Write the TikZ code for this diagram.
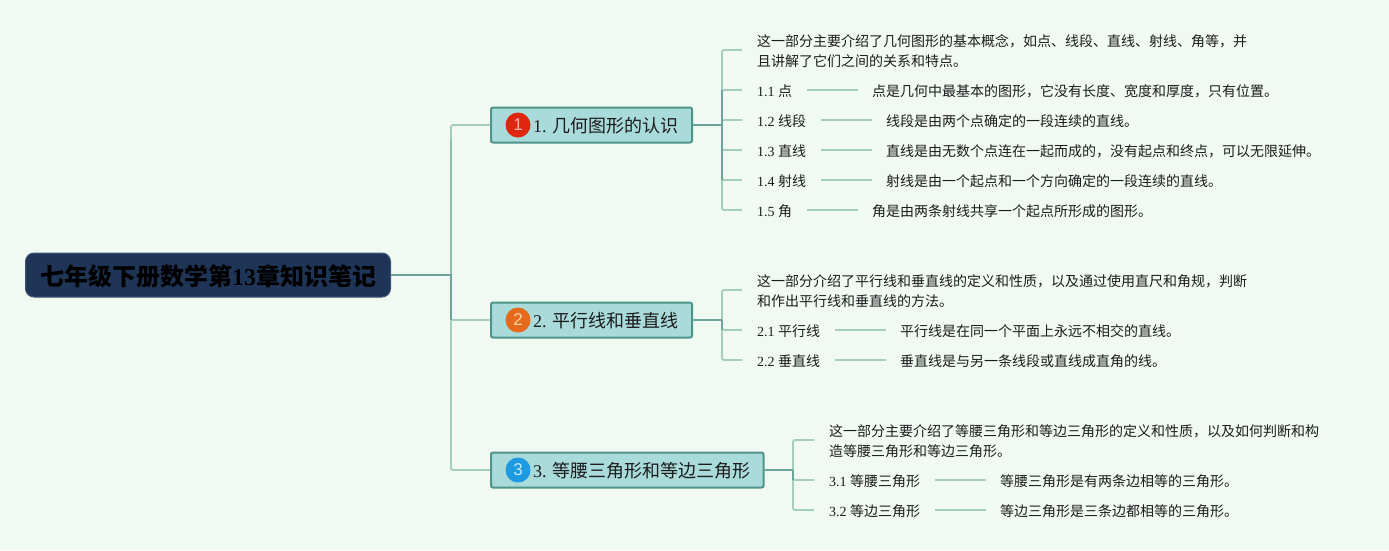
\documentclass[tikz,border=0pt]{standalone}
\usepackage{fontspec}
\setmainfont{Liberation Serif}
\newfontfamily\cjk{Noto Sans CJK SC}
\newfontfamily\iconfont{Liberation Sans}
\newcommand{\zh}[1]{{\cjk #1}}
\newcommand{\lowered}[1]{\raisebox{0pt}[16pt][1.4pt]{#1}}
\definecolor{pagebg}{HTML}{F0FAF3}
\definecolor{rootfill}{HTML}{1F3558}
\definecolor{mainfill}{HTML}{A9DBDA}
\definecolor{mainedge}{HTML}{4F9488}
\definecolor{darkline}{HTML}{6CA599}
\definecolor{midline}{HTML}{8CBFB0}
\definecolor{lightline}{HTML}{A3CDBD}
\definecolor{txt}{HTML}{1C1C1C}
\definecolor{redicon}{HTML}{E0260E}
\definecolor{orangeicon}{HTML}{E56A1B}
\definecolor{blueicon}{HTML}{1E9BE0}
\tikzset{
  rootbox/.style={draw=rootfill!85!white,line width=1pt,fill=rootfill,rounded corners=8.5pt,minimum width=365pt,minimum height=44pt,inner sep=0pt,anchor=west,text=black,font=\fontsize{24}{28}\selectfont\bfseries},
  mainbox/.style={draw=mainedge,line width=2pt,fill=mainfill,rounded corners=2pt,minimum height=35pt,inner sep=0pt,anchor=west,text=txt,font=\fontsize{18}{22}\selectfont},
  icon/.style={circle,minimum size=25pt,inner sep=0pt,font=\iconfont\fontsize{17}{17}\selectfont},
  leaf/.style={inner xsep=15pt,inner ysep=0pt,anchor=west,align=left,text=txt,font=\fontsize{14}{20}\selectfont},
  value/.style={inner xsep=13.5pt,inner ysep=0pt,anchor=west,align=left,text=txt,font=\fontsize{14}{20}\selectfont},
  stem/.style={darkline,line width=2.2pt},
  twig/.style={lightline,line width=1.8pt,rounded corners=2pt},
  rule/.style={lightline,line width=1.5pt},
  hubdark/.style={darkline,line width=1.8pt},
  hubmid/.style={midline,line width=1.8pt},
  up/.style={yshift=1.5pt}
}
\begin{document}
\begin{tikzpicture}[x=1pt,y=-1pt]
\useasboundingbox[fill=pagebg] (0,0) rectangle (1389,550);

\node[rootbox] (root) at (25,275) {\raisebox{0pt}[22pt][1.2pt]{\zh{七年级下册数学第}13\zh{章知识笔记}}};
\coordinate (rh) at (451,275);

\node[mainbox,minimum width=201pt] (m1) at (490,125) {\makebox[201pt][l]{\hspace{42pt}\lowered{1. \zh{几何图形的认识}}}};
\node[mainbox,minimum width=201pt] (m2) at (490,320) {\makebox[201pt][l]{\hspace{42pt}\lowered{2. \zh{平行线和垂直线}}}};
\node[mainbox,minimum width=272.5pt] (m3) at (490,470) {\makebox[272.5pt][l]{\hspace{42pt}\lowered{3. \zh{等腰三角形和等边三角形}}}};
\node[icon,fill=redicon,text=red!30!white] (i1) at (518,125) {1};
\node[icon,fill=orangeicon,text=orange!35!white] (i2) at (518,320) {2};
\node[icon,fill=blueicon,text=cyan!25!white] (i3) at (518,470) {3};

\draw[twig] (rh) |- (m1.west);
\draw[twig] (rh) |- (m3.west);
\draw[twig] (rh |- m2.west) -- (m2.west);
\draw[hubmid] (rh) -- (rh |- 0,140);
\draw[hubdark] (root.east) -- (rh) -- (rh |- m2.west);

% group 1
\coordinate (h1) at (722,125);
\node[leaf] (a0) at (742,51.5) {\zh{这一部分主要介绍了几何图形的基本概念，如点、线段、直线、射线、角等，并}\\\zh{且讲解了它们之间的关系和特点。}};
\node[leaf] (a1) at (742,91.5) {1.1 \zh{点}};
\node[leaf] (a2) at (742,121.5) {1.2 \zh{线段}};
\node[leaf] (a3) at (742,151.5) {1.3 \zh{直线}};
\node[leaf] (a4) at (742,181.5) {1.4 \zh{射线}};
\node[leaf] (a5) at (742,211.5) {1.5 \zh{角}};
\node[value] (v1) at (a1.east) [xshift=51pt] {\zh{点是几何中最基本的图形，它没有长度、宽度和厚度，只有位置。}};
\node[value] (v2) at (a2.east) [xshift=51pt] {\zh{线段是由两个点确定的一段连续的直线。}};
\node[value] (v3) at (a3.east) [xshift=51pt] {\zh{直线是由无数个点连在一起而成的，没有起点和终点，可以无限延伸。}};
\node[value] (v4) at (a4.east) [xshift=51pt] {\zh{射线是由一个起点和一个方向确定的一段连续的直线。}};
\node[value] (v5) at (a5.east) [xshift=51pt] {\zh{角是由两条射线共享一个起点所形成的图形。}};
\foreach \n in {0,1,2,3,4,5} \draw[twig] (h1) |- ([up]a\n.west);
\draw[hubdark] ([up]a1.west -| h1) -- ([up]a4.west -| h1);
\draw[stem] (m1.east) -- (h1);
\foreach \n in {1,2,3,4,5} \draw[rule] ([up]a\n.east) -- ([up]v\n.west);

% group 2
\coordinate (h2) at (722,320);
\node[leaf] (b0) at (742,291.5) {\zh{这一部分介绍了平行线和垂直线的定义和性质，以及通过使用直尺和角规，判断}\\\zh{和作出平行线和垂直线的方法。}};
\node[leaf] (b1) at (742,331.5) {2.1 \zh{平行线}};
\node[leaf] (b2) at (742,361.5) {2.2 \zh{垂直线}};
\node[value] (w1) at (b1.east) [xshift=51pt] {\zh{平行线是在同一个平面上永远不相交的直线。}};
\node[value] (w2) at (b2.east) [xshift=51pt] {\zh{垂直线是与另一条线段或直线成直角的线。}};
\foreach \n in {0,1,2} \draw[twig] (h2) |- ([up]b\n.west);
\draw[hubdark] (h2) -- ([up]b1.west -| h2);
\draw[stem] (m2.east) -- (h2);
\foreach \n in {1,2} \draw[rule] ([up]b\n.east) -- ([up]w\n.west);

% group 3
\coordinate (h3) at (793,470);
\node[leaf] (c0) at (814,441.5) {\zh{这一部分主要介绍了等腰三角形和等边三角形的定义和性质，以及如何判断和构}\\\zh{造等腰三角形和等边三角形。}};
\node[leaf] (c1) at (814,481.5) {3.1 \zh{等腰三角形}};
\node[leaf] (c2) at (814,511.5) {3.2 \zh{等边三角形}};
\node[value] (x1) at (c1.east) [xshift=51pt] {\zh{等腰三角形是有两条边相等的三角形。}};
\node[value] (x2) at (c2.east) [xshift=51pt] {\zh{等边三角形是三条边都相等的三角形。}};
\foreach \n in {0,1,2} \draw[twig] (h3) |- ([up]c\n.west);
\draw[hubdark] (h3) -- ([up]c1.west -| h3);
\draw[stem] (m3.east) -- (h3);
\foreach \n in {1,2} \draw[rule] ([up]c\n.east) -- ([up]x\n.west);
\end{tikzpicture}
\end{document}
